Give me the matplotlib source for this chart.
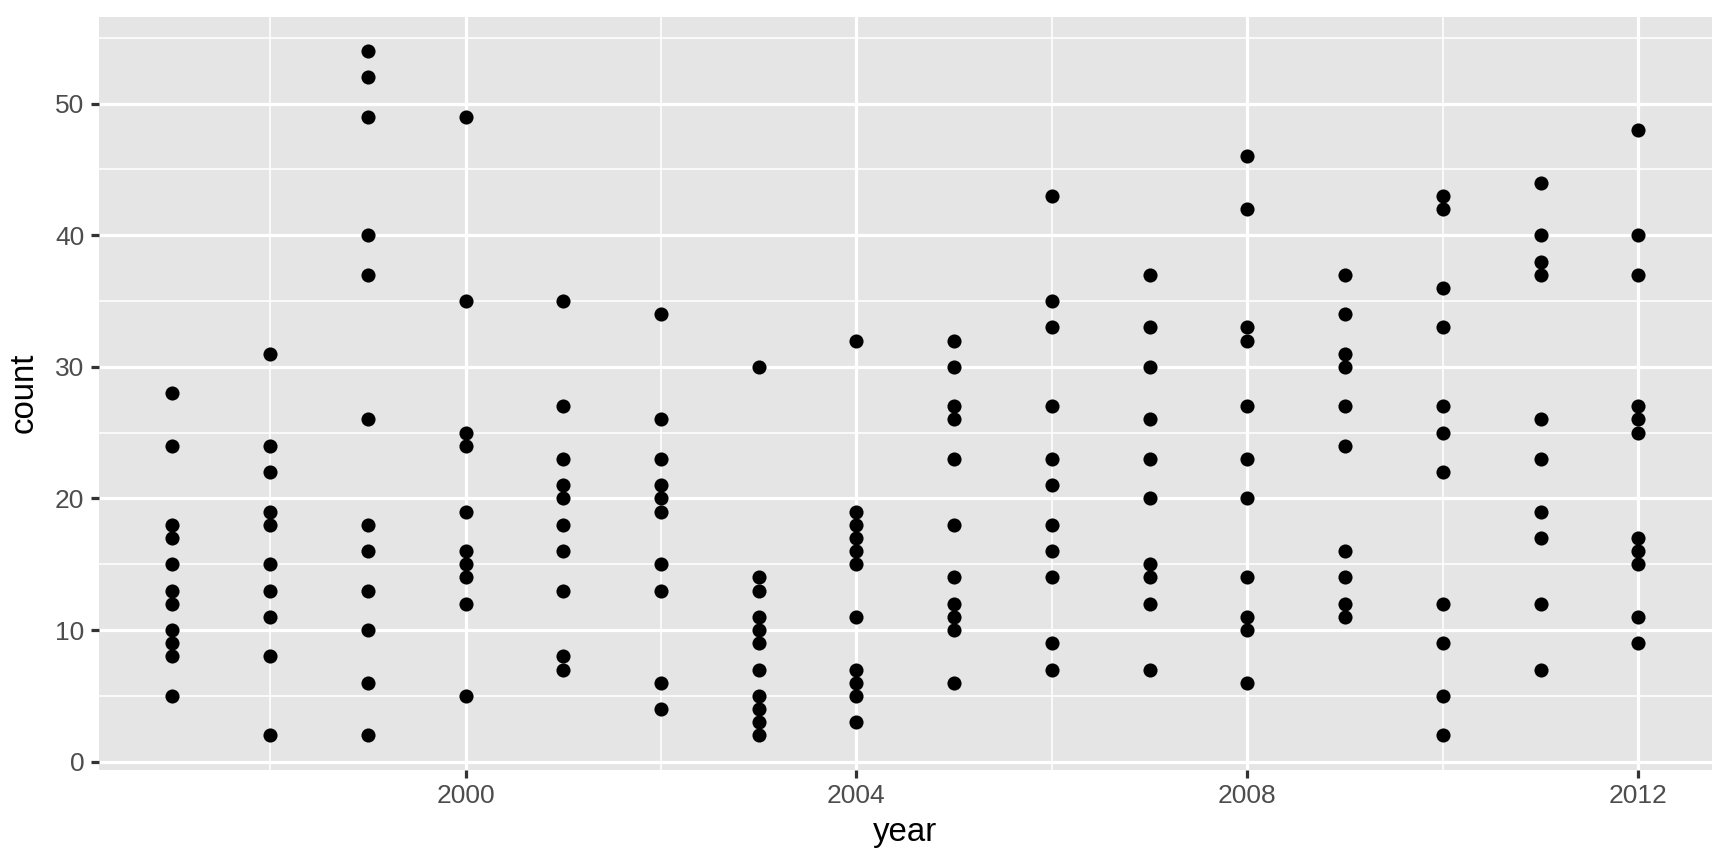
import matplotlib
matplotlib.use("Agg")
import matplotlib.pyplot as plt
from matplotlib.ticker import MultipleLocator, FixedLocator

plt.rcParams['font.family'] = ['Liberation Sans', 'DejaVu Sans']

# counts per year
c1997 = [28, 24, 18, 17, 15, 13, 12, 10, 9, 8, 5]
c1998 = [31, 24, 22, 19, 18, 15, 13, 11, 8, 2]
c1999 = [54, 52, 49, 40, 37, 26, 18, 16, 13, 10, 6, 2]
c2000 = [49, 35, 25, 24, 19, 16, 15, 14, 12, 5]
c2001 = [35, 27, 23, 21, 20, 18, 16, 13, 8, 7]
c2002 = [34, 26, 23, 21, 20, 19, 15, 13, 6, 4]
c2003 = [30, 14, 13, 11, 10, 9, 7, 5, 4, 3, 2]
c2004 = [32, 19, 18, 17, 16, 15, 11, 7, 6, 5, 3]
c2005 = [32, 30, 27, 26, 23, 18, 14, 12, 11, 10, 6]
c2006 = [43, 35, 33, 27, 23, 21, 18, 16, 14, 9, 7]
c2007 = [37, 33, 30, 26, 23, 20, 15, 14, 12, 7]
c2008 = [46, 42, 33, 32, 27, 23, 20, 14, 11, 10, 6]
c2009 = [37, 34, 31, 30, 27, 24, 16, 14, 12, 11]
c2010 = [43, 42, 36, 33, 27, 25, 22, 12, 9, 5, 2]
c2011 = [44, 40, 38, 37, 26, 23, 19, 17, 12, 7]
c2012 = [48, 40, 37, 27, 26, 25, 17, 16, 15, 11, 9]

years = list(range(1997, 2013))
counts = [c1997, c1998, c1999, c2000, c2001, c2002, c2003, c2004,
          c2005, c2006, c2007, c2008, c2009, c2010, c2011, c2012]

x = []
y = []
for yr, cs in zip(years, counts):
    x += [yr] * len(cs)
    y += cs

fig = plt.figure(figsize=(8, 4), dpi=216)
ax = fig.add_axes([0.0573, 0.1093, 0.9905 - 0.0573, 0.9806 - 0.1093])
ax.set_facecolor('#E5E5E5')
for s in ax.spines.values():
    s.set_visible(False)

ymin, ymax = min(y), max(y)
pad = (ymax - ymin) * 0.05
ax.set_ylim(ymin - pad, ymax + pad)
ax.set_xlim(1997 - 0.75, 2012 + 0.75)

ax.xaxis.set_major_locator(FixedLocator([2000, 2004, 2008, 2012]))
ax.xaxis.set_minor_locator(FixedLocator([1998, 2002, 2006, 2010]))
ax.yaxis.set_major_locator(MultipleLocator(10))
ax.yaxis.set_minor_locator(FixedLocator([5, 15, 25, 35, 45, 55]))

ax.grid(which='major', color='white', linewidth=1.07)
ax.grid(which='minor', color='white', linewidth=0.53)
ax.set_axisbelow(True)

ax.tick_params(which='major', length=2.75, width=1.07, color='#333333',
               labelcolor='#4D4D4D', labelsize=8.8, pad=2.2)
ax.tick_params(which='minor', length=0)

ax.plot(x, y, 'o', color='black', markersize=4.7, markeredgewidth=0)

ax.set_xlabel('year', fontsize=11, labelpad=3)
ax.set_ylabel('count', fontsize=11, labelpad=5)

fig.savefig('out.png', dpi=216)
